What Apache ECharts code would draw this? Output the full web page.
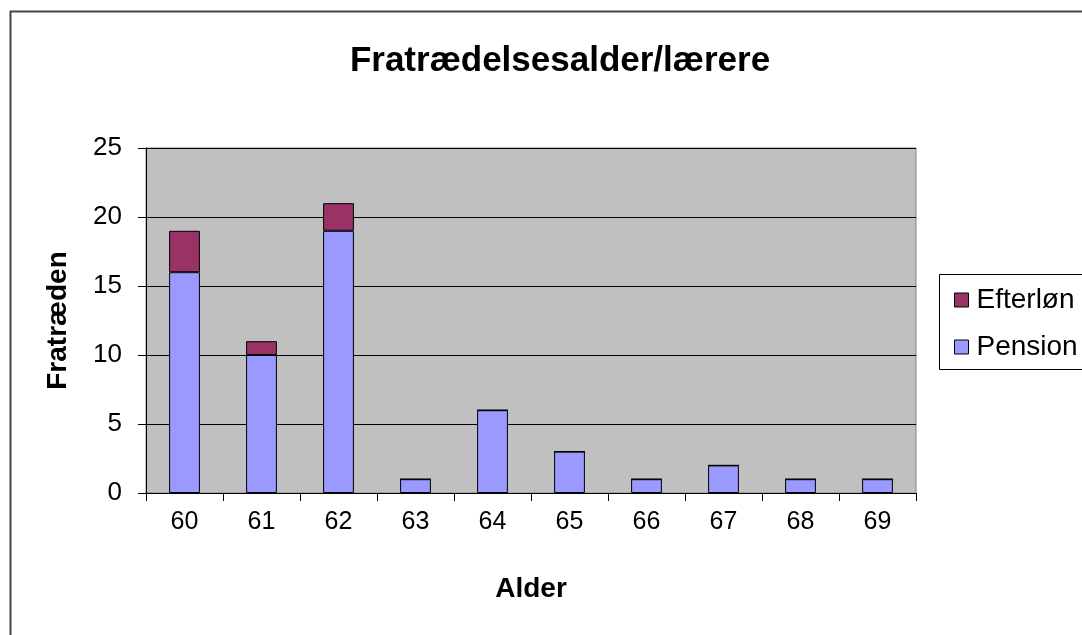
<!DOCTYPE html>
<html>
<head>
<meta charset="utf-8">
<script src="https://cdn.jsdelivr.net/npm/echarts@6/dist/echarts.min.js"></script>
<style>
  html, body { margin: 0; padding: 0; background: #fff; }
  #main { width: 1082px; height: 635px; }
</style>
</head>
<body>
<div id="main"></div>
<script>
const ages = ['60', '61', '62', '63', '64', '65', '66', '67', '68', '69'];
const pension = [16, 10, 19, 1, 6, 3, 1, 2, 1, 1];
const efterlon = [3, 1, 2, 0, 0, 0, 0, 0, 0, 0];

const font = 'Arial, "Liberation Sans", sans-serif';
const chart = echarts.init(document.getElementById('main'), null, {renderer: 'canvas'});

chart.setOption({
    animation: false,
    backgroundColor: '#fff',
    textStyle: { fontFamily: font, color: '#000' },
    title: {
        text: 'Fratrædelsesalder/lærere',
        left: 555, top: 39, textAlign: 'center',
        textStyle: { fontSize: 35, fontWeight: 'bold', color: '#000', fontFamily: font }
    },
    graphic: [
        { type: 'rect', shape: { x: 10.5, y: 11.5, width: 1200, height: 800 },
          style: { fill: 'none', stroke: '#444', lineWidth: 2 }, z: 100 },
        { type: 'rect', shape: { x: 939.5, y: 274.5, width: 200, height: 95 },
          style: { fill: '#fff', stroke: '#000', lineWidth: 1 }, z: 0 }
    ],
    legend: {
        orient: 'vertical',
        left: 949, top: 281,
        icon: 'rect',
        itemWidth: 14, itemHeight: 14, itemGap: 19,
        data: ['Efterløn', 'Pension'],
        itemStyle: { borderColor: '#000', borderWidth: 1 },
        textStyle: { fontSize: 28, fontFamily: font, color: '#000', padding: [0, 0, 0, 3] },
        z: 10
    },
    grid: {
        left: 146, right: 1082 - 916, top: 148, bottom: 635 - 493,
        show: true, backgroundColor: '#c0c0c0', borderColor: '#808080', borderWidth: 1
    },
    xAxis: {
        type: 'category',
        data: ages,
        name: 'Alder', nameLocation: 'middle', nameGap: 82,
        nameTextStyle: { fontSize: 28, fontWeight: 'bold', color: '#000', fontFamily: font },
        axisLine: { lineStyle: { color: '#000', width: 1 } },
        axisTick: { show: true, length: 8, lineStyle: { color: '#000' } },
        axisLabel: { fontSize: 25, color: '#000', margin: 17, fontFamily: font }
    },
    yAxis: {
        type: 'value',
        min: 0, max: 25, interval: 5,
        name: 'Fratræden', nameLocation: 'middle', nameGap: 74, nameRotate: 90,
        nameTextStyle: { fontSize: 28, fontWeight: 'bold', color: '#000', fontFamily: font },
        axisLine: { show: true, lineStyle: { color: '#000', width: 1 } },
        axisTick: { show: true, length: 8, lineStyle: { color: '#000' } },
        axisLabel: { fontSize: 26, color: '#000', margin: 24, fontFamily: font },
        splitLine: { lineStyle: { color: '#000', width: 1 } }
    },
    series: [
        {
            name: 'Pension', type: 'bar', stack: 'total', data: pension,
            barWidth: '40%',
            itemStyle: { color: '#9999ff', borderColor: '#000', borderWidth: 1 }
        },
        {
            name: 'Efterløn', type: 'bar', stack: 'total', data: efterlon,
            barWidth: '40%',
            itemStyle: { color: '#993366', borderColor: '#000', borderWidth: 1 }
        }
    ]
});
</script>
</body>
</html>
